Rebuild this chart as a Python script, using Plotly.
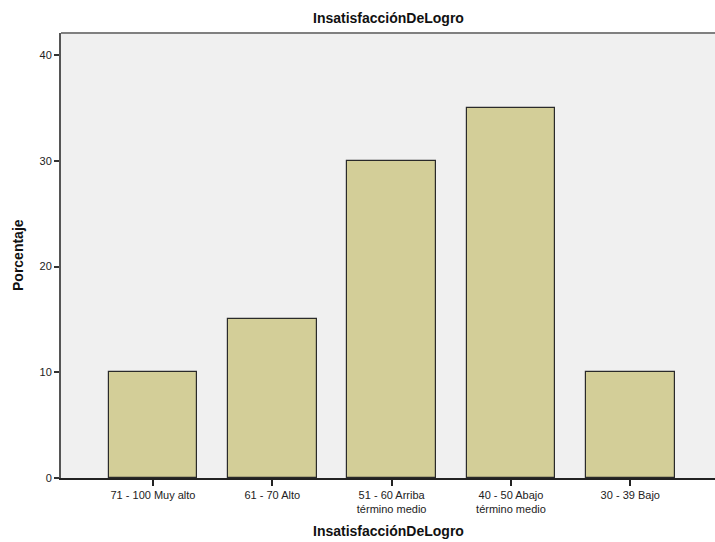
import plotly.graph_objects as go

categories = ["71 - 100 Muy alto", "61 - 70 Alto", "51 - 60 Arriba<br>término medio",
              "40 - 50 Abajo<br>término medio", "30 - 39 Bajo"]
values = [10, 15, 30, 35, 10]
y_ticks = [0, 10, 20, 30, 40]
chart_title = "InsatisfacciónDeLogro"
x_title = "InsatisfacciónDeLogro"
y_title = "Porcentaje"

fig = go.Figure(go.Bar(
    x=list(range(len(categories))), y=values,
    width=0.745,
    marker=dict(color="#D3CE98", line=dict(color="#2a2a2a", width=1.2)),
    hoverinfo="skip",
))

fig.update_layout(
    width=715, height=542,
    margin=dict(l=61, r=0, t=33, b=64, autoexpand=False),
    paper_bgcolor="white", plot_bgcolor="#F0F0F0",
    font=dict(family="Liberation Sans, Arial, sans-serif", size=11, color="#222"),
    showlegend=False,
    bargap=0,
)

fig.update_xaxes(
    range=[-0.771, 4.71], automargin=False,
    tickmode="array", tickvals=list(range(len(categories))), ticktext=categories,
    ticks="outside", ticklen=6, tickcolor="#222", tickwidth=1.5,
    showline=True, linecolor="#222", linewidth=1.5,
    showgrid=False, zeroline=False,
    tickfont=dict(size=11, color="#222"),
)
fig.update_yaxes(
    range=[0, 42.1], automargin=False,
    tickmode="array", tickvals=y_ticks,
    ticks="outside", ticklen=5, tickcolor="#333", tickwidth=1.5,
    showline=True, linecolor="#555", linewidth=2,
    showgrid=False, zeroline=False,
    tickfont=dict(size=11, color="#222"),
)
fig.add_shape(type="line", xref="paper", yref="paper", x0=0, x1=1, y0=1, y1=1,
              line=dict(color="#808080", width=2))

plot_h = 542 - 33 - 64
plot_w = 715 - 61
fig.add_annotation(text="<b>%s</b>" % chart_title, xref="paper", yref="paper",
                   x=(388 - 61) / plot_w, y=1 + (33 - 18) / plot_h,
                   xanchor="center", yanchor="middle", showarrow=False,
                   font=dict(size=14, color="#111"))
fig.add_annotation(text="<b>%s</b>" % x_title, xref="paper", yref="paper",
                   x=(388 - 61) / plot_w, y=-(531 - 478) / plot_h,
                   xanchor="center", yanchor="middle", showarrow=False,
                   font=dict(size=14, color="#111"))
fig.add_annotation(text="<b>%s</b>" % y_title, xref="paper", yref="paper",
                   x=-(61 - 18) / plot_w, y=(478 - 255) / plot_h,
                   xanchor="center", yanchor="middle", showarrow=False, textangle=-90,
                   font=dict(size=14, color="#111"))

fig.write_html("out.html", config={"displayModeBar": False},
               post_script="document.body.style.margin='0';document.body.style.overflow='hidden';")
